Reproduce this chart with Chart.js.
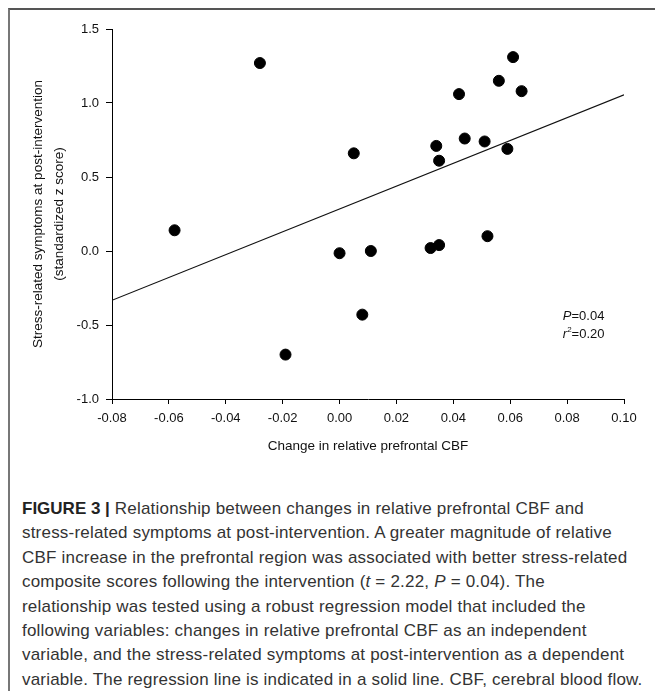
<!DOCTYPE html>
<html>
<head>
<meta charset="utf-8">
<script src="https://cdn.jsdelivr.net/npm/chart.js@4.4.1/dist/chart.umd.min.js"></script>
<style>
  html, body { margin: 0; padding: 0; background: #fff; }
  body { width: 655px; height: 691px; position: relative; overflow: hidden; }
  #frame {
    position: absolute; left: 8px; top: 8px; right: -10px; bottom: -10px;
    border-top: 2px solid #555; border-left: 2px solid #777;
  }
  #plot { position: absolute; left: 0; top: 0; width: 655px; height: 470px; }
  #caption {
    position: absolute; left: 22px; top: 497px;
    font-family: "Liberation Sans", Arial, sans-serif;
    font-size: 17px; line-height: 24.4px; color: #333;
    letter-spacing: 0.2px;
    white-space: nowrap;
  }
  #caption b { color: #222; letter-spacing: 0; }
</style>
</head>
<body>
<div id="frame"></div>
<div id="plot"><canvas id="chart" width="655" height="470"></canvas></div>
<div id="caption">
  <div><b>FIGURE 3 |</b> Relationship between changes in relative prefrontal CBF and</div>
  <div>stress-related symptoms at post-intervention. A greater magnitude of relative</div>
  <div>CBF increase in the prefrontal region was associated with better stress-related</div>
  <div>composite scores following the intervention (<i>t</i> = 2.22, <i>P</i> = 0.04). The</div>
  <div>relationship was tested using a robust regression model that included the</div>
  <div>following variables: changes in relative prefrontal CBF as an independent</div>
  <div>variable, and the stress-related symptoms at post-intervention as a dependent</div>
  <div>variable. The regression line is indicated in a solid line. CBF, cerebral blood flow.</div>
</div>
<script>
// change in relative prefrontal CBF vs stress-related score (z)
const cbfChange = [-0.058, -0.028, -0.019, 0.000, 0.005, 0.008, 0.011, 0.032, 0.034, 0.035,
  0.035, 0.042, 0.044, 0.051, 0.052, 0.056, 0.059, 0.061, 0.064];
const stressScore = [0.14, 1.27, -0.70, -0.015, 0.66, -0.43, 0.00, 0.02, 0.71, 0.61,
  0.04, 1.06, 0.76, 0.74, 0.10, 1.15, 0.69, 1.31, 1.08];

// regression line end points
const fitX = [-0.08, 0.10];
const fitY = [-0.333, 1.055];

const statLines = ['P=0.04', 'r2=0.20'];

const FONT = '"Liberation Sans", Arial, sans-serif';

const statsLabel = {
  id: 'statsLabel',
  afterDraw(chart) {
    const { ctx, scales } = chart;
    const x0 = scales.x.getPixelForValue(0.0785);
    const y0 = scales.y.getPixelForValue(-0.445);
    ctx.save();
    ctx.fillStyle = '#111';
    ctx.textBaseline = 'middle';
    ctx.textAlign = 'left';
    // P=0.04
    ctx.font = 'italic 13px ' + FONT;
    ctx.fillText('P', x0, y0);
    let w = ctx.measureText('P').width;
    ctx.font = '13px ' + FONT;
    ctx.fillText(statLines[0].slice(1), x0 + w, y0);
    // r²=0.20
    const y1 = y0 + 18;
    ctx.font = 'italic 13px ' + FONT;
    ctx.fillText('r', x0, y1);
    w = ctx.measureText('r').width;
    ctx.font = '8px ' + FONT;
    ctx.fillText('2', x0 + w, y1 - 5);
    const w2 = ctx.measureText('2').width;
    ctx.font = '13px ' + FONT;
    ctx.fillText(statLines[1].slice(2), x0 + w + w2, y1);
    ctx.restore();
  },
};

new Chart(document.getElementById('chart'), {
  type: 'scatter',
  data: {
    datasets: [
      {
        label: 'Subjects',
        data: cbfChange.map((x, i) => ({ x, y: stressScore[i] })),
        backgroundColor: '#000',
        borderColor: '#000',
        pointRadius: 5.5,
        pointHoverRadius: 5.5,
      },
      {
        type: 'line',
        label: 'Regression',
        data: fitX.map((x, i) => ({ x, y: fitY[i] })),
        borderColor: '#111',
        borderWidth: 1.2,
        pointRadius: 0,
        fill: false,
      },
    ],
  },
  options: {
    responsive: false,
    animation: false,
    layout: { padding: { left: 0, top: 29, right: 31, bottom: 0 } },
    plugins: { legend: { display: false }, tooltip: { enabled: false } },
    scales: {
      x: {
        type: 'linear',
        min: -0.08,
        max: 0.10,
        afterFit: (scale) => { scale.height = 71; },
        border: { display: true, color: '#000', width: 1 },
        grid: { drawOnChartArea: false, drawTicks: true, tickLength: 5, color: '#000' },
        ticks: {
          stepSize: 0.02,
          padding: 7,
          color: '#111',
          font: { family: FONT, size: 13 },
          maxRotation: 0,
          callback: (v) => Number(v).toFixed(2),
        },
        title: {
          display: true,
          text: 'Change in relative prefrontal CBF',
          color: '#111',
          font: { family: FONT, size: 13.5 },
          padding: { top: 0, bottom: 16 },
        },
      },
      y: {
        type: 'linear',
        min: -1.0,
        max: 1.5,
        afterFit: (scale) => { scale.width = 112; },
        border: { display: true, color: '#000', width: 1 },
        grid: { drawOnChartArea: false, drawTicks: true, tickLength: 6, color: '#000' },
        ticks: {
          stepSize: 0.5,
          padding: 7,
          color: '#111',
          font: { family: FONT, size: 13 },
          callback: (v) => Number(v).toFixed(1),
        },
        title: {
          display: true,
          text: ['Stress-related symptoms at post-intervention', '(standardized z score)'],
          color: '#111',
          font: { family: FONT, size: 13.5, lineHeight: 1.55 },
          padding: { top: 28, bottom: 0 },
        },
      },
    },
  },
  plugins: [statsLabel],
});
</script>
</body>
</html>
